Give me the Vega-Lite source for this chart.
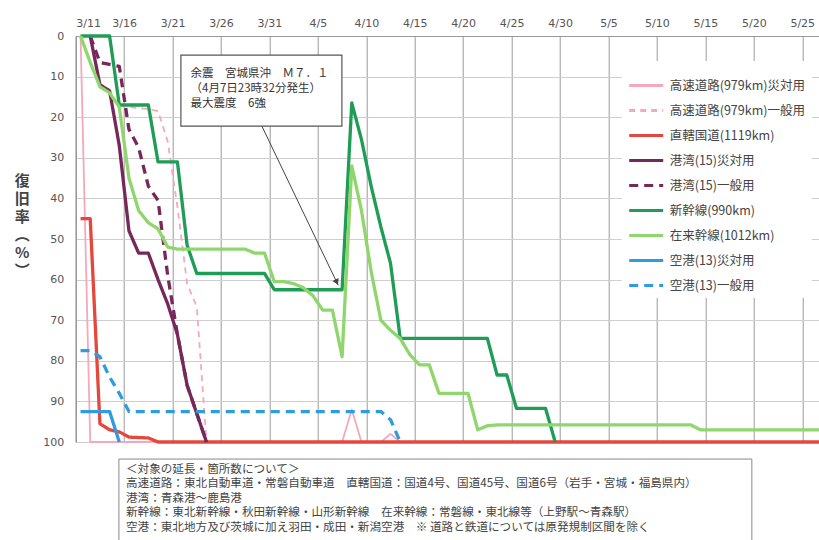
{
  "$schema": "https://vega.github.io/schema/vega-lite/v6.json",
  "width": 743,
  "height": 406,
  "autosize": {"type": "none"},
  "padding": {"left": 75.7, "top": 36, "right": 0.3, "bottom": 98},
  "background": "white",
  "config": {
    "view": {"stroke": null},
    "font": "Noto Sans CJK JP",
    "legend": {
      "orient": "none", "legendX": 546, "legendY": 25,
      "fillColor": "white", "padding": 6, "symbolType": "stroke", "symbolSize": 1156,
      "symbolStrokeWidth": 3,
      "labelFontSize": 12.5, "labelColor": "#444", "labelOffset": 5, "rowPadding": -3.2
    }
  },
  "resolve": {"axis": {"x": "independent", "y": "independent"}},
  "layer": [
    {
      "data": {
        "values": [
          {"series": "高速道路(979km)災対用", "day": 0, "rate": 0},
          {"series": "高速道路(979km)災対用", "day": 1, "rate": 100},
          {"series": "高速道路(979km)災対用", "day": 27, "rate": 100},
          {"series": "高速道路(979km)災対用", "day": 28, "rate": 92},
          {"series": "高速道路(979km)災対用", "day": 29, "rate": 100},
          {"series": "高速道路(979km)災対用", "day": 31, "rate": 100},
          {"series": "高速道路(979km)災対用", "day": 32, "rate": 98},
          {"series": "高速道路(979km)災対用", "day": 33, "rate": 100},
          {"series": "高速道路(979km)災対用", "day": 77, "rate": 100},

          {"series": "高速道路(979km)一般用", "day": 0, "rate": 0},
          {"series": "高速道路(979km)一般用", "day": 3, "rate": 0},
          {"series": "高速道路(979km)一般用", "day": 4, "rate": 17},
          {"series": "高速道路(979km)一般用", "day": 5, "rate": 17.5},
          {"series": "高速道路(979km)一般用", "day": 7, "rate": 18},
          {"series": "高速道路(979km)一般用", "day": 8, "rate": 18.5},
          {"series": "高速道路(979km)一般用", "day": 9, "rate": 26},
          {"series": "高速道路(979km)一般用", "day": 10, "rate": 42},
          {"series": "高速道路(979km)一般用", "day": 11, "rate": 61},
          {"series": "高速道路(979km)一般用", "day": 12, "rate": 66.7},
          {"series": "高速道路(979km)一般用", "day": 13, "rate": 100},
          {"series": "高速道路(979km)一般用", "day": 77, "rate": 100}
        ]
      },
      "mark": {"type": "line", "strokeJoin": "round", "strokeWidth": 1.8},
      "encoding": {
        "x": {
          "field": "day", "type": "quantitative",
          "scale": {"domain": [-0.5, 76.2], "nice": false, "zero": false},
          "axis": {
            "orient": "top", "title": null,
            "values": [-0.5, 4.5, 9.5, 14.5, 19.5, 24.5, 29.5, 34.5, 39.5, 44.5, 49.5, 54.5, 59.5, 64.5, 69.5, 74.5],
            "labelExpr": "timeFormat(datetime(2011, 2, 11 + datum.value + 0.5), '%-m/%-d')",
            "labelDx": 5, "labelPadding": 8, "labelFontSize": 11, "labelColor": "#555",
            "labelFont": "DejaVu Sans",
            "ticks": false, "domain": true, "domainColor": "#999",
            "grid": true, "gridColor": "#9a9a9a", "gridWidth": 1
          }
        },
        "y": {
          "field": "rate", "type": "quantitative",
          "scale": {"domain": [0, 100], "reverse": true, "nice": false, "zero": false},
          "axis": {
            "values": [0, 10, 20, 30, 40, 50, 60, 70, 80, 90, 100],
            "title": ["復", "旧", "率", "︵", "%", "︶"],
            "titleAngle": 0, "titleFontSize": 15, "titleFontWeight": "bold", "titleColor": "#444",
            "titleLineHeight": 18, "titleX": -54, "titleY": 144, "titleAlign": "center", "titleBaseline": "middle",
            "labelPadding": 12, "labelFontSize": 11, "labelColor": "#555", "labelFont": "DejaVu Sans",
            "ticks": false, "domain": true, "domainColor": "#888",
            "grid": true, "gridColor": "#cfcfcf", "gridWidth": 1
          }
        },
        "color": {
          "field": "series", "type": "nominal",
          "scale": {
            "domain": ["高速道路(979km)災対用", "高速道路(979km)一般用", "直轄国道(1119km)", "港湾(15)災対用", "港湾(15)一般用", "新幹線(990km)", "在来幹線(1012km)", "空港(13)災対用", "空港(13)一般用"],
            "range": ["#f3a9bb", "#f3a9bb", "#e5473c", "#76285a", "#76285a", "#1f9d57", "#8fd66c", "#2e9de0", "#2e9de0"]
          },
          "legend": {"title": null}
        },
        "strokeDash": {
          "field": "series", "type": "nominal",
          "scale": {
            "domain": ["高速道路(979km)災対用", "高速道路(979km)一般用", "直轄国道(1119km)", "港湾(15)災対用", "港湾(15)一般用", "新幹線(990km)", "在来幹線(1012km)", "空港(13)災対用", "空港(13)一般用"],
            "range": [[1, 0], [6, 5], [1, 0], [1, 0], [9, 6], [1, 0], [1, 0], [1, 0], [9, 6]]
          },
          "legend": {"title": null}
        }
      }
    },
    {
      "data": {
        "values": [
          {"series": "直轄国道(1119km)", "day": 0, "rate": 45},
          {"series": "直轄国道(1119km)", "day": 1, "rate": 45},
          {"series": "直轄国道(1119km)", "day": 2, "rate": 95.5},
          {"series": "直轄国道(1119km)", "day": 3, "rate": 97},
          {"series": "直轄国道(1119km)", "day": 4, "rate": 97.5},
          {"series": "直轄国道(1119km)", "day": 5, "rate": 98.8},
          {"series": "直轄国道(1119km)", "day": 7, "rate": 99},
          {"series": "直轄国道(1119km)", "day": 8, "rate": 100},
          {"series": "直轄国道(1119km)", "day": 77, "rate": 100},

          {"series": "港湾(15)災対用", "day": 1, "rate": 0},
          {"series": "港湾(15)災対用", "day": 2, "rate": 12},
          {"series": "港湾(15)災対用", "day": 3, "rate": 13.5},
          {"series": "港湾(15)災対用", "day": 4, "rate": 27},
          {"series": "港湾(15)災対用", "day": 5, "rate": 48},
          {"series": "港湾(15)災対用", "day": 6, "rate": 53.5},
          {"series": "港湾(15)災対用", "day": 7, "rate": 53.5},
          {"series": "港湾(15)災対用", "day": 8, "rate": 60},
          {"series": "港湾(15)災対用", "day": 9, "rate": 66},
          {"series": "港湾(15)災対用", "day": 10, "rate": 73.5},
          {"series": "港湾(15)災対用", "day": 11, "rate": 86},
          {"series": "港湾(15)災対用", "day": 12, "rate": 93},
          {"series": "港湾(15)災対用", "day": 13, "rate": 100},

          {"series": "港湾(15)一般用", "day": 1, "rate": 0},
          {"series": "港湾(15)一般用", "day": 2, "rate": 6.5},
          {"series": "港湾(15)一般用", "day": 3, "rate": 7},
          {"series": "港湾(15)一般用", "day": 4, "rate": 7.5},
          {"series": "港湾(15)一般用", "day": 5, "rate": 23},
          {"series": "港湾(15)一般用", "day": 6, "rate": 27.5},
          {"series": "港湾(15)一般用", "day": 7, "rate": 37},
          {"series": "港湾(15)一般用", "day": 8, "rate": 40.5},
          {"series": "港湾(15)一般用", "day": 9, "rate": 59},
          {"series": "港湾(15)一般用", "day": 10, "rate": 73.5},
          {"series": "港湾(15)一般用", "day": 11, "rate": 86},
          {"series": "港湾(15)一般用", "day": 12, "rate": 93},
          {"series": "港湾(15)一般用", "day": 13, "rate": 100},

          {"series": "新幹線(990km)", "day": 0, "rate": 0},
          {"series": "新幹線(990km)", "day": 3, "rate": 0},
          {"series": "新幹線(990km)", "day": 4, "rate": 17},
          {"series": "新幹線(990km)", "day": 7, "rate": 17},
          {"series": "新幹線(990km)", "day": 8, "rate": 31},
          {"series": "新幹線(990km)", "day": 10, "rate": 31},
          {"series": "新幹線(990km)", "day": 11, "rate": 51.5},
          {"series": "新幹線(990km)", "day": 12, "rate": 58.5},
          {"series": "新幹線(990km)", "day": 19, "rate": 58.5},
          {"series": "新幹線(990km)", "day": 20, "rate": 62.5},
          {"series": "新幹線(990km)", "day": 27, "rate": 62.5},
          {"series": "新幹線(990km)", "day": 28, "rate": 16.5},
          {"series": "新幹線(990km)", "day": 29, "rate": 25.5},
          {"series": "新幹線(990km)", "day": 30, "rate": 37},
          {"series": "新幹線(990km)", "day": 31, "rate": 47},
          {"series": "新幹線(990km)", "day": 32, "rate": 56},
          {"series": "新幹線(990km)", "day": 33, "rate": 74.5},
          {"series": "新幹線(990km)", "day": 42, "rate": 74.5},
          {"series": "新幹線(990km)", "day": 43, "rate": 83.5},
          {"series": "新幹線(990km)", "day": 44, "rate": 83.5},
          {"series": "新幹線(990km)", "day": 45, "rate": 91.7},
          {"series": "新幹線(990km)", "day": 48, "rate": 91.7},
          {"series": "新幹線(990km)", "day": 49, "rate": 100},

          {"series": "在来幹線(1012km)", "day": 0, "rate": 0},
          {"series": "在来幹線(1012km)", "day": 1, "rate": 6.5},
          {"series": "在来幹線(1012km)", "day": 2, "rate": 12.5},
          {"series": "在来幹線(1012km)", "day": 3, "rate": 14},
          {"series": "在来幹線(1012km)", "day": 4, "rate": 17.5},
          {"series": "在来幹線(1012km)", "day": 5, "rate": 35},
          {"series": "在来幹線(1012km)", "day": 6, "rate": 43},
          {"series": "在来幹線(1012km)", "day": 7, "rate": 46},
          {"series": "在来幹線(1012km)", "day": 8, "rate": 47.5},
          {"series": "在来幹線(1012km)", "day": 9, "rate": 52},
          {"series": "在来幹線(1012km)", "day": 10, "rate": 52.5},
          {"series": "在来幹線(1012km)", "day": 17, "rate": 52.5},
          {"series": "在来幹線(1012km)", "day": 18, "rate": 53.5},
          {"series": "在来幹線(1012km)", "day": 19, "rate": 53.5},
          {"series": "在来幹線(1012km)", "day": 20, "rate": 60.5},
          {"series": "在来幹線(1012km)", "day": 21, "rate": 60.5},
          {"series": "在来幹線(1012km)", "day": 22, "rate": 61},
          {"series": "在来幹線(1012km)", "day": 23, "rate": 62},
          {"series": "在来幹線(1012km)", "day": 24, "rate": 64},
          {"series": "在来幹線(1012km)", "day": 25, "rate": 67.5},
          {"series": "在来幹線(1012km)", "day": 26, "rate": 67.5},
          {"series": "在来幹線(1012km)", "day": 27, "rate": 79},
          {"series": "在来幹線(1012km)", "day": 28, "rate": 32},
          {"series": "在来幹線(1012km)", "day": 29, "rate": 43},
          {"series": "在来幹線(1012km)", "day": 30, "rate": 58},
          {"series": "在来幹線(1012km)", "day": 31, "rate": 70},
          {"series": "在来幹線(1012km)", "day": 32, "rate": 72.5},
          {"series": "在来幹線(1012km)", "day": 33, "rate": 74.5},
          {"series": "在来幹線(1012km)", "day": 34, "rate": 78.5},
          {"series": "在来幹線(1012km)", "day": 35, "rate": 81},
          {"series": "在来幹線(1012km)", "day": 36, "rate": 81},
          {"series": "在来幹線(1012km)", "day": 37, "rate": 88},
          {"series": "在来幹線(1012km)", "day": 40, "rate": 88},
          {"series": "在来幹線(1012km)", "day": 41, "rate": 97},
          {"series": "在来幹線(1012km)", "day": 42, "rate": 96},
          {"series": "在来幹線(1012km)", "day": 43, "rate": 95.8},
          {"series": "在来幹線(1012km)", "day": 63, "rate": 95.8},
          {"series": "在来幹線(1012km)", "day": 64, "rate": 97},
          {"series": "在来幹線(1012km)", "day": 77, "rate": 97},

          {"series": "空港(13)災対用", "day": 0, "rate": 92.5},
          {"series": "空港(13)災対用", "day": 3, "rate": 92.5},
          {"series": "空港(13)災対用", "day": 4, "rate": 100},

          {"series": "空港(13)一般用", "day": 0, "rate": 77.5},
          {"series": "空港(13)一般用", "day": 1, "rate": 77.5},
          {"series": "空港(13)一般用", "day": 2, "rate": 79},
          {"series": "空港(13)一般用", "day": 3, "rate": 84},
          {"series": "空港(13)一般用", "day": 4, "rate": 88},
          {"series": "空港(13)一般用", "day": 5, "rate": 92.5},
          {"series": "空港(13)一般用", "day": 31, "rate": 92.5},
          {"series": "空港(13)一般用", "day": 32, "rate": 94.5},
          {"series": "空港(13)一般用", "day": 33, "rate": 100}
        ]
      },
      "mark": {"type": "line", "strokeJoin": "round", "strokeWidth": 3.3},
      "encoding": {
        "x": {"field": "day", "type": "quantitative", "scale": {"domain": [-0.5, 76.2], "nice": false, "zero": false}, "axis": null},
        "y": {"field": "rate", "type": "quantitative", "scale": {"domain": [0, 100], "reverse": true, "nice": false, "zero": false}, "axis": null},
        "color": {
          "field": "series", "type": "nominal",
          "scale": {
            "domain": ["高速道路(979km)災対用", "高速道路(979km)一般用", "直轄国道(1119km)", "港湾(15)災対用", "港湾(15)一般用", "新幹線(990km)", "在来幹線(1012km)", "空港(13)災対用", "空港(13)一般用"],
            "range": ["#f3a9bb", "#f3a9bb", "#e5473c", "#76285a", "#76285a", "#1f9d57", "#8fd66c", "#2e9de0", "#2e9de0"]
          },
          "legend": {"title": null}
        },
        "strokeDash": {
          "field": "series", "type": "nominal",
          "scale": {
            "domain": ["高速道路(979km)災対用", "高速道路(979km)一般用", "直轄国道(1119km)", "港湾(15)災対用", "港湾(15)一般用", "新幹線(990km)", "在来幹線(1012km)", "空港(13)災対用", "空港(13)一般用"],
            "range": [[1, 0], [6, 5], [1, 0], [1, 0], [9, 6], [1, 0], [1, 0], [1, 0], [9, 6]]
          },
          "legend": {"title": null}
        }
      }
    },
    {
      "data": {"values": [{}]},
      "mark": {"type": "rect", "fill": "white", "stroke": "#555", "strokeWidth": 1.2},
      "encoding": {
        "x": {"datum": 10.36, "type": "quantitative", "scale": {"domain": [-0.5, 76.2], "nice": false, "zero": false}, "axis": null},
        "x2": {"datum": 26.98},
        "y": {"datum": 4.7, "type": "quantitative", "scale": {"domain": [0, 100], "reverse": true, "nice": false, "zero": false}, "axis": null},
        "y2": {"datum": 22.2}
      }
    },
    {
      "data": {"values": [{}]},
      "mark": {"type": "text", "align": "left", "baseline": "top", "fontSize": 11.5, "lineHeight": 15, "color": "#333", "font": "Noto Sans CJK JP"},
      "encoding": {
        "x": {"datum": 11.36, "type": "quantitative", "scale": {"domain": [-0.5, 76.2], "nice": false, "zero": false}, "axis": null},
        "y": {"datum": 7.9, "type": "quantitative", "scale": {"domain": [0, 100], "reverse": true, "nice": false, "zero": false}, "axis": null},
        "text": {"value": ["余震　宮城県沖　Ｍ７．１", "（4月7日23時32分発生）", "最大震度　6強"]}
      }
    },
    {
      "data": {"values": [{}]},
      "mark": {"type": "rule", "color": "#444", "strokeWidth": 1},
      "encoding": {
        "x": {"datum": 18.72, "type": "quantitative", "scale": {"domain": [-0.5, 76.2], "nice": false, "zero": false}, "axis": null},
        "x2": {"datum": 26.6},
        "y": {"datum": 22.2, "type": "quantitative", "scale": {"domain": [0, 100], "reverse": true, "nice": false, "zero": false}, "axis": null},
        "y2": {"datum": 61.4}
      }
    },
    {
      "data": {"values": [{}]},
      "mark": {"type": "point", "shape": "triangle-down", "filled": true, "color": "#444", "opacity": 1, "size": 45, "angle": 334.2},
      "encoding": {
        "x": {"datum": 26.45, "type": "quantitative", "scale": {"domain": [-0.5, 76.2], "nice": false, "zero": false}, "axis": null},
        "y": {"datum": 60.6, "type": "quantitative", "scale": {"domain": [0, 100], "reverse": true, "nice": false, "zero": false}, "axis": null}
      }
    },
    {
      "data": {"values": [{}]},
      "mark": {"type": "rect", "fill": "white", "stroke": "#888", "strokeWidth": 1},
      "encoding": {
        "x": {"datum": 3.96, "type": "quantitative", "scale": {"domain": [-0.5, 76.2], "nice": false, "zero": false}, "axis": null},
        "x2": {"datum": 69.3},
        "y": {"datum": 104.2, "type": "quantitative", "scale": {"domain": [0, 100], "reverse": true, "nice": false, "zero": false}, "axis": null},
        "y2": {"datum": 130}
      }
    },
    {
      "data": {"values": [{}]},
      "mark": {"type": "text", "align": "left", "baseline": "top", "fontSize": 11.6, "lineHeight": 14.5, "color": "#444", "font": "Noto Sans CJK JP"},
      "encoding": {
        "x": {"datum": 4.69, "type": "quantitative", "scale": {"domain": [-0.5, 76.2], "nice": false, "zero": false}, "axis": null},
        "y": {"datum": 105.4, "type": "quantitative", "scale": {"domain": [0, 100], "reverse": true, "nice": false, "zero": false}, "axis": null},
        "text": {"value": [
          "＜対象の延長・箇所数について＞",
          "高速道路：東北自動車道・常磐自動車道　直轄国道：国道4号、国道45号、国道6号（岩手・宮城・福島県内）",
          "港湾：青森港～鹿島港",
          "新幹線：東北新幹線・秋田新幹線・山形新幹線　在来幹線：常磐線・東北線等（上野駅～青森駅）",
          "空港：東北地方及び茨城に加え羽田・成田・新潟空港　※ 道路と鉄道については原発規制区間を除く"
        ]}
      }
    }
  ]
}
